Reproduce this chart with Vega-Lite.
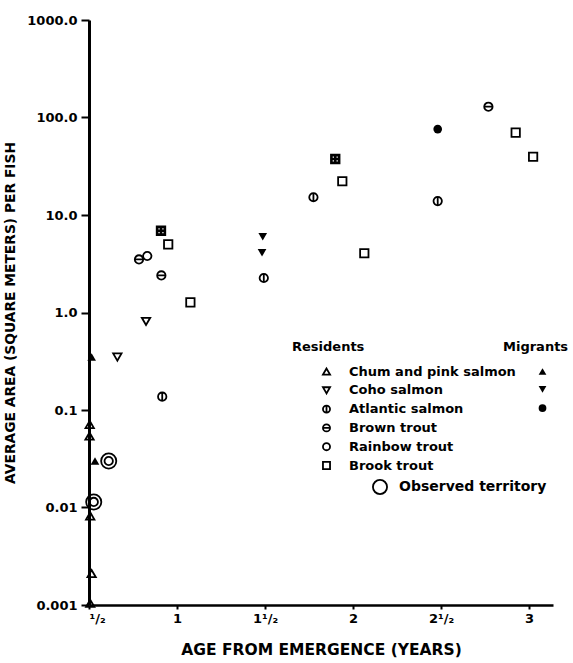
{
  "$schema": "https://vega.github.io/schema/vega-lite/v6.json",
  "width": 464,
  "height": 585,
  "autosize": {"type": "none"},
  "padding": {"left": 89, "top": 20, "right": 20, "bottom": 58},
  "background": "white",
  "config": {
    "view": {"stroke": null},
    "font": "DejaVu Sans",
    "axis": {"labelColor": "black", "titleColor": "black", "labelFontWeight": "bold", "titleFontWeight": "bold", "grid": false, "domainColor": "black", "tickColor": "black", "labelFont": "DejaVu Sans", "titleFont": "DejaVu Sans"},
    "legend": {"labelFont": "DejaVu Sans", "titleFont": "DejaVu Sans", "labelColor": "black", "titleColor": "black", "labelFontWeight": "bold", "titleFontWeight": "bold", "labelFontSize": 13, "titleFontSize": 13, "padding": 0, "labelLimit": 300}
  },
  "data": {
    "values": [
      {"age": 0.504, "area": 0.071, "species": "Chum and pink salmon", "group": "Resident"},
      {"age": 0.503, "area": 0.054, "species": "Chum and pink salmon", "group": "Resident"},
      {"age": 0.507, "area": 0.0082, "species": "Chum and pink salmon", "group": "Resident"},
      {"age": 0.515, "area": 0.0021, "species": "Chum and pink salmon", "group": "Resident"},
      {"age": 0.507, "area": 0.00104, "species": "Chum and pink salmon", "group": "Resident"},
      {"age": 0.661, "area": 0.35, "species": "Coho salmon", "group": "Resident"},
      {"age": 0.824, "area": 0.81, "species": "Coho salmon", "group": "Resident"},
      {"age": 0.916, "area": 0.137, "species": "Atlantic salmon", "group": "Resident"},
      {"age": 1.493, "area": 2.26, "species": "Atlantic salmon", "group": "Resident"},
      {"age": 1.775, "area": 15.2, "species": "Atlantic salmon", "group": "Resident"},
      {"age": 2.481, "area": 13.9, "species": "Atlantic salmon", "group": "Resident"},
      {"age": 0.784, "area": 3.5, "species": "Brown trout", "group": "Resident"},
      {"age": 0.911, "area": 2.4, "species": "Brown trout", "group": "Resident"},
      {"age": 2.769, "area": 129, "species": "Brown trout", "group": "Resident"},
      {"age": 0.831, "area": 3.8, "species": "Rainbow trout", "group": "Resident"},
      {"age": 0.612, "area": 0.030, "species": "Rainbow trout", "group": "Resident"},
      {"age": 0.527, "area": 0.0114, "species": "Rainbow trout", "group": "Resident"},
      {"age": 0.95, "area": 5.0, "species": "Brook trout", "group": "Resident"},
      {"age": 1.076, "area": 1.27, "species": "Brook trout", "group": "Resident"},
      {"age": 1.939, "area": 22.2, "species": "Brook trout", "group": "Resident"},
      {"age": 2.064, "area": 4.05, "species": "Brook trout", "group": "Resident"},
      {"age": 2.924, "area": 70, "species": "Brook trout", "group": "Resident"},
      {"age": 3.023, "area": 39.6, "species": "Brook trout", "group": "Resident"},
      {"age": 0.515, "area": 0.35, "species": "Chum and pink salmon", "group": "Migrant"},
      {"age": 0.534, "area": 0.030, "species": "Chum and pink salmon", "group": "Migrant"},
      {"age": 1.487, "area": 6.0, "species": "Coho salmon", "group": "Migrant"},
      {"age": 1.483, "area": 4.1, "species": "Coho salmon", "group": "Migrant"},
      {"age": 2.481, "area": 76, "species": "Atlantic salmon", "group": "Migrant"},
      {"age": 0.909, "area": 6.9, "species": "Brook trout", "group": "Hatched"},
      {"age": 1.899, "area": 37.5, "species": "Brook trout", "group": "Hatched"},
      {"age": 0.612, "area": 0.030, "species": "Rainbow trout", "group": "Observed territory"},
      {"age": 0.527, "area": 0.0114, "species": "Rainbow trout", "group": "Observed territory"}
    ]
  },
  "encoding": {
    "x": {
      "field": "age", "type": "quantitative",
      "scale": {"domain": [0.5, 3.136], "nice": false, "zero": false},
      "axis": {
        "title": "AGE FROM EMERGENCE (YEARS)",
        "values": [0.5, 1, 1.5, 2, 2.5, 3],
        "labelExpr": "datum.value == 0.5 ? '¹/₂' : datum.value == 1.5 ? '1¹/₂' : datum.value == 2.5 ? '2¹/₂' : format(datum.value, 'd')",
        "domainWidth": 2.5, "tickWidth": 2, "tickSize": 4,
        "labelFontSize": 13, "labelPadding": 3,
        "titleFontSize": 15.5, "titlePadding": 17
      }
    },
    "y": {
      "field": "area", "type": "quantitative",
      "scale": {"type": "log", "domain": [0.001, 1000], "nice": false},
      "axis": {
        "title": "AVERAGE AREA (SQUARE METERS) PER FISH",
        "values": [0.001, 0.01, 0.1, 1, 10, 100, 1000],
        "labelExpr": "datum.value >= 1 ? format(datum.value, '.1f') : format(datum.value, '~g')",
        "domainWidth": 3, "tickWidth": 2, "tickSize": 8,
        "labelFontSize": 13, "labelPadding": 4,
        "titleFontSize": 13.8, "titlePadding": 9
      }
    }
  },
  "layer": [
    {
      "transform": [{"filter": "datum.group == 'Observed territory'"}],
      "mark": {"type": "point", "filled": false, "color": "black", "strokeWidth": 1.8, "size": 230, "opacity": 1},
      "encoding": {
        "shape": {
          "field": "group", "type": "nominal",
          "scale": {"domain": ["Observed territory"], "range": ["circle"]},
          "legend": {"title": null, "orient": "none", "legendX": 283, "legendY": 459, "symbolSize": 200, "symbolStrokeWidth": 1.8, "symbolStrokeColor": "black", "labelOffset": 11, "labelFontSize": 14}
        }
      }
    },
    {
      "transform": [{"filter": "datum.group == 'Resident'"}],
      "mark": {"type": "point", "filled": false, "color": "black", "strokeWidth": 1.8, "size": 70, "opacity": 1},
      "encoding": {
        "shape": {
          "field": "species", "type": "nominal",
          "scale": {
            "domain": ["Chum and pink salmon", "Coho salmon", "Atlantic salmon", "Brown trout", "Rainbow trout", "Brook trout"],
            "range": ["triangle-up", "triangle-down", "M-1,0A1,1,0,1,0,1,0A1,1,0,1,0,-1,0ZM0,-1V1", "M-1,0A1,1,0,1,0,1,0A1,1,0,1,0,-1,0ZM-1,0H1", "circle", "square"]
          },
          "legend": {"title": "Residents", "orient": "none", "legendX": 203, "legendY": 321, "symbolOffset": 28, "labelOffset": 16, "symbolSize": 50, "symbolStrokeWidth": 1.8, "symbolStrokeColor": "black", "rowPadding": 3.8, "titlePadding": 11}
        }
      }
    },
    {
      "transform": [{"filter": "datum.group == 'Migrant'"}],
      "mark": {"type": "point", "filled": true, "color": "black", "size": 75, "opacity": 1},
      "encoding": {
        "shape": {
          "field": "species", "type": "nominal",
          "scale": {
            "domain": ["Chum and pink salmon", "Coho salmon", "Atlantic salmon"],
            "range": ["triangle-up", "triangle-down", "circle"]
          },
          "legend": {"title": "Migrants", "orient": "none", "legendX": 414, "legendY": 321, "symbolOffset": 33, "labelExpr": "''", "symbolSize": 60, "symbolFillColor": "black", "symbolStrokeColor": "black", "rowPadding": 3.8, "titlePadding": 11}
        }
      }
    },
    {
      "transform": [{"filter": "datum.group == 'Hatched'"}],
      "mark": {"type": "point", "filled": false, "color": "black", "strokeWidth": 2.6, "size": 60, "opacity": 1, "shape": "M-1,-1H1V1H-1ZM0,-1V1M-1,0H1"}
    }
  ],
  "resolve": {"scale": {"shape": "independent"}, "legend": {"shape": "independent"}}
}
